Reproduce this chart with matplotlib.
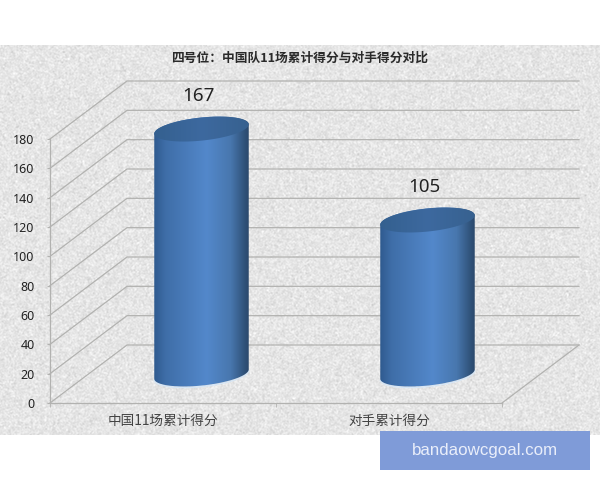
import numpy as np
import matplotlib
matplotlib.use('Agg')
import matplotlib.pyplot as plt
from matplotlib.colors import LinearSegmentedColormap
from matplotlib.patches import Polygon, Rectangle

plt.rcParams['font.family'] = ['Noto Sans CJK SC', 'DejaVu Sans']

# chart data
categories = ['中国11场累计得分', '对手累计得分']
values = [167, 105]
y_ticks = [0, 20, 40, 60, 80, 100, 120, 140, 160, 180]
title = '四号位\uff1a中国队11场累计得分与对手得分对比'
watermark = 'bandaowcgoal.com'

W, H = 600, 480
GRID = '#b2b2b0'

fig = plt.figure(figsize=(W / 100, H / 100), dpi=100, facecolor='white')

# paper texture behind the chart, only decoration
bg = fig.add_axes([0, 0, 1, 1])
bg.set_xlim(0, W)
bg.set_ylim(H, 0)
bg.axis('off')
rng = np.random.default_rng(4)
noise = rng.normal(0, 1, (392, 602))
noise = (noise + np.roll(noise, 1, 0) + np.roll(noise, 1, 1) + np.roll(noise, (1, 1), (0, 1))) / 4
tex = np.clip(229 + noise * 12, 180, 255)
bg.imshow(tex[:390, :600], extent=(0, 600, 435, 45), cmap='gray', vmin=0, vmax=255,
          aspect='auto', interpolation='bilinear')

# front plane of the 3d box: left 50px, right 502px, y=0 at 403px, y=180 at 139px
ax = fig.add_axes([50 / W, 1 - 403 / H, 452 / W, 264 / H])
ax.patch.set_alpha(0)
for side in ['top', 'right']:
    ax.spines[side].set_visible(False)
for side in ['left', 'bottom']:
    ax.spines[side].set_color(GRID)
    ax.spines[side].set_linewidth(0.9)

px_x = 2 / 452   # data units for a pixel
px_y = 180 / 264
depth_x = 77 * px_x
depth_y = 58 * px_y

# walls and floor
for t in y_ticks:
    ax.plot([-0.5, -0.5 + depth_x, 1.5 + depth_x], [t, t + depth_y, t + depth_y],
            color=GRID, lw=0.9, clip_on=False, zorder=1)
ax.plot([1.5, 1.5 + depth_x], [0, depth_y], color=GRID, lw=0.9, clip_on=False, zorder=1)

cyl_cmap = LinearSegmentedColormap.from_list('cyl', [
    (0.0, '#2f5a8f'), (0.12, '#3f6ea8'), (0.55, '#5388cb'),
    (0.8, '#4877ae'), (0.95, '#2f5178'), (1.0, '#2a4668')])
top_cmap = LinearSegmentedColormap.from_list('captop', ['#34608f', '#3d699f', '#37618f'])
shade = np.linspace(0, 1, 256).reshape(1, -1)


def ellipse_pts(cx, cy, a=47.5, b=11.5, tilt=6, n=120, start=0, stop=2 * np.pi):
    # ellipse given in pixels around a centre in data units
    t = np.linspace(start, stop, n)
    r = np.radians(tilt)
    ex = a * np.cos(t)
    ey = b * np.sin(t)
    return np.column_stack([cx + (ex * np.cos(r) - ey * np.sin(r)) * px_x,
                            cy + (ex * np.sin(r) + ey * np.cos(r)) * px_y])


for i, v in enumerate(values):
    cx = i + depth_x / 2
    base = depth_y / 2
    top = v + depth_y / 2
    x0, x1 = cx - 48 * px_x, cx + 48 * px_x

    # body: lower half of the bottom ellipse, up to the top ellipse
    low = ellipse_pts(cx, base, start=np.pi, stop=2 * np.pi)
    up = ellipse_pts(cx, top, start=0, stop=np.pi)
    body = Polygon(np.vstack([low, up]), closed=True, transform=ax.transData)
    ax.add_patch(Polygon(low + [0, -1.0 * px_y], closed=False, fill=False, ec='#d6e6f6', lw=1.0,
                         clip_on=False, zorder=2))
    im = ax.imshow(shade, extent=(x0, x1, base - 20, top + 20), cmap=cyl_cmap, aspect='auto', zorder=3)
    im.set_clip_box(fig.bbox)
    im.set_clip_path(body)

    # the cap sticks out above the axes box for tall bars, so no axes clipping
    cap = Polygon(ellipse_pts(cx, top), closed=True, transform=ax.transData)
    im2 = ax.imshow(shade, extent=(x0, x1, top - 20, top + 20), cmap=top_cmap, aspect='auto', zorder=4)
    im2.set_clip_box(fig.bbox)
    im2.set_clip_path(cap)

    ax.annotate(str(v), xy=(cx, top), xytext=(-3, 33), textcoords='offset pixels',
                ha='center', va='center', fontsize=13.5, color='#222222',
                family='Noto Sans', annotation_clip=False, zorder=5)

# imshow resets the limits
ax.set_xlim(-0.5, 1.5)
ax.set_ylim(0, 180)

ax.set_yticks(y_ticks)
ax.set_xticks([-0.5, 0.5, 1.5], minor=True)
ax.set_xticks([0, 1])
ax.set_xticklabels(categories, fontsize=9.8, color='#444444')
ax.tick_params(axis='y', labelsize=9, labelcolor='#222222', color=GRID, length=2, pad=9)
for lab in ax.get_yticklabels():
    lab.set_family('Noto Sans')
ax.tick_params(axis='x', which='major', length=0, pad=8)
ax.tick_params(axis='x', which='minor', color=GRID, length=3)

fig.text(300 / W, 1 - 58 / H, title, ha='center', va='center', fontsize=9.2,
         fontweight='bold', color='#2a2a2a')

# watermark box
fig.add_artist(Rectangle((380 / W, 1 - 470 / H), 210 / W, 39 / H, transform=fig.transFigure,
                         fc='#7f9bd8', ec='none', zorder=6))
fig.text(485 / W, 1 - 450 / H, watermark, ha='center', va='center', fontsize=12.2,
         family='Liberation Sans', color='#e9eefa', zorder=7)

fig.savefig('out.png', dpi=100)
